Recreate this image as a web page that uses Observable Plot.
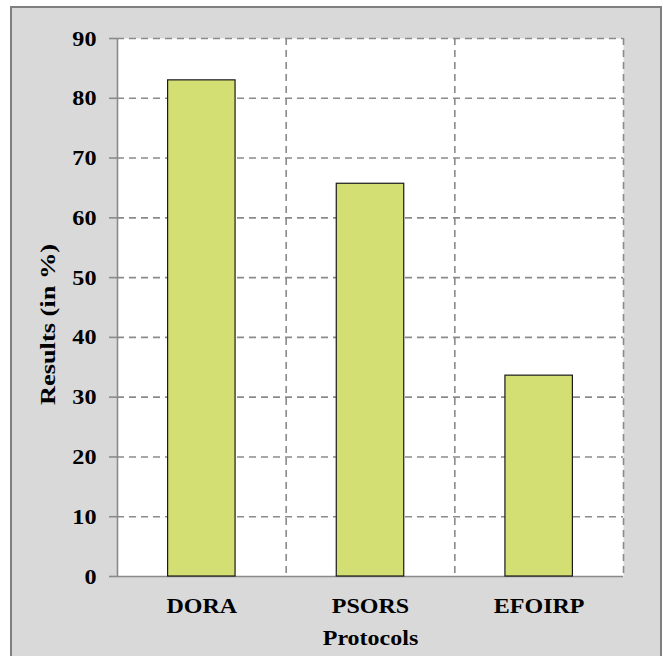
<!DOCTYPE html>
<html><head><meta charset="utf-8">
<script src="https://cdn.jsdelivr.net/npm/d3@7"></script>
<script src="https://cdn.jsdelivr.net/npm/@observablehq/plot@0.6"></script>
<style>
body{margin:0;background:#fff;}
#wrap{position:relative;width:665px;height:656px;overflow:hidden;}
#box{position:absolute;left:10px;top:6px;width:648px;height:670px;background:#d9d9d9;border:2px solid #7f7f7f;}
#chart{position:absolute;left:0;top:0;}
</style></head><body>
<div id="wrap"><div id="box"></div><div id="chart"></div></div>
<script>
const categories = ["DORA", "PSORS", "EFOIRP"];
const values = [83.0, 65.7, 33.6];
const yTicks = [0, 10, 20, 30, 40, 50, 60, 70, 80, 90];
const xTitle = "Protocols";
const yTitle = "Results (in %)";

const data = categories.map((c, i) => ({c, i, v: values[i]}));
const font = '"Liberation Serif","Times New Roman",serif';
const gridColor = "#8a8a8a";

const plot = Plot.plot({
  width: 665, height: 656,
  marginLeft: 117, marginRight: 42, marginTop: 38, marginBottom: 80,
  style: {background: "transparent", fontFamily: font, fontWeight: "bold", color: "#000", overflow: "visible"},
  x: {domain: [0, categories.length], axis: null},
  y: {domain: [0, 90], axis: null},
  marks: [
    Plot.frame({fill: "white", stroke: "none"}),
    Plot.gridY(yTicks.slice(1), {stroke: gridColor, strokeOpacity: 1, strokeWidth: 1.6, strokeDasharray: "7,5"}),
    Plot.ruleX(d3.range(1, categories.length + 1), {stroke: gridColor, strokeWidth: 1.6, strokeDasharray: "7,5"}),
    Plot.ruleX([0], {stroke: gridColor, strokeWidth: 1.6}),
    Plot.ruleY([0], {stroke: gridColor, strokeWidth: 1.6}),
    Plot.axisY(yTicks, {tickSize: 8, tickPadding: 13, stroke: gridColor, strokeWidth: 1.6, fill: "black",
      fontSize: 22, fontWeight: "bold", fontFamily: font, label: null, tickFormat: d => String(d)}),
    Plot.rect(data, {x1: d => d.i + 0.3, x2: d => d.i + 0.7, y1: 0, y2: "v",
      fill: "#d4df73", stroke: "#1a1a1a", strokeWidth: 1.2}),
    Plot.text(data, {x: d => d.i + 0.5, y: 0, dy: 30, text: "c", fontSize: 20, fontWeight: "bold", fontFamily: font, fill: "black", lineAnchor: "middle"}),
    Plot.text([xTitle], {frameAnchor: "bottom", dy: 62, fontSize: 20, fontWeight: "bold", fontFamily: font, fill: "black", lineAnchor: "middle"}),
    Plot.text([yTitle], {frameAnchor: "left", dx: -70, dy: 17, rotate: -90, textAnchor: "middle", fontSize: 22, fontWeight: "bold", fontFamily: font, fill: "black", lineAnchor: "middle"})
  ]
});
document.getElementById("chart").appendChild(plot);

// widen glyphs along the baseline to match the reference's stretched lettering
plot.querySelectorAll("text").forEach(t => {
  const g = t.closest("g");
  const isTick = g && (g.getAttribute("aria-label") || "").includes("tick label");
  const f = isTick ? 1.1 : 1.2;
  const tr = t.getAttribute("transform") || "";
  if (tr.includes("rotate")) {
    t.setAttribute("transform", tr + ` scale(${f},1)`);
    return;
  }
  const len = t.getComputedTextLength();
  if (len > 0) {
    t.setAttribute("textLength", (len * f).toFixed(1));
    t.setAttribute("lengthAdjust", "spacingAndGlyphs");
  }
});
</script>
</body></html>
